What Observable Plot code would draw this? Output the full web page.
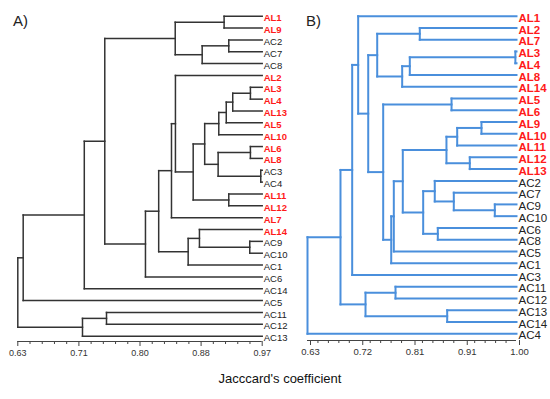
<!DOCTYPE html>
<html><head><meta charset="utf-8">
<script src="https://cdn.jsdelivr.net/npm/d3@7"></script>
<script src="https://cdn.jsdelivr.net/npm/@observablehq/plot@0.6"></script>
<style>
body{margin:0;background:#fff;}
#wrap{position:relative;width:550px;height:399px;font-family:"Liberation Sans",Arial,sans-serif;overflow:hidden;}
#wrap svg{position:absolute;top:0;}
.panel{position:absolute;top:12px;font-size:15px;color:#222;}
#caption{position:absolute;left:0;width:560px;top:371px;text-align:center;font-size:13px;color:#111;}
</style>
</head><body>
<div id="wrap">
  <div class="panel" style="left:13px">A)</div>
  <div class="panel" style="left:306px">B)</div>
  <div id="caption">Jacccard's coefficient</div>
</div>
<script>
// ---------- Panel A ----------
const leavesA = ["AL1","AL9","AC2","AC7","AC8","AL2","AL3","AL4","AL13","AL5","AL10","AL6","AL8","AC3","AC4","AL11","AL12","AL7","AL14","AC9","AC10","AC1","AC6","AC14","AC5","AC11","AC12","AC13"];
const mergesA = [
  ["a1","AL1","AL9",0.917],
  ["a2","AC2","AC7",0.9235],
  ["a3","a2","AC8",0.8865],
  ["a4","a1","a3",0.849],
  ["a5","AL3","AL4",0.9536],
  ["a6","a5","AL13",0.929],
  ["a7","a6","AL5",0.920],
  ["a8","a7","AL10",0.9096],
  ["a9","AL6","AL8",0.9536],
  ["a10","AC3","AC4",0.968],
  ["a11","a9","a10",0.9087],
  ["a12","a8","a11",0.890],
  ["a13","AL11","AL12",0.9235],
  ["a14","a12","a13",0.874],
  ["a15","AL2","a14",0.8493],
  ["a16","a15","AL7",0.8438],
  ["a17","AC9","AC10",0.9527],
  ["a18","AL14","a17",0.8827],
  ["a19","a18","AC1",0.867],
  ["a20","a16","a19",0.826],
  ["a21","a20","AC6",0.8076],
  ["a22","a4","a21",0.751],
  ["a23","a22","AC14",0.7225],
  ["a24","a23","AC5",0.6375],
  ["a25","AC11","AC12",0.7534],
  ["a26","a25","AC13",0.72],
  ["a27","a24","a26",0.63]
];
const domainA = [0.63, 0.97];
const ticksA = [0.63, 0.715, 0.80, 0.885, 0.97];
const tickLabelsA = ["0.63","0.71","0.80","0.88","0.97"];

// ---------- Panel B ----------
const leavesB = ["AL1","AL2","AL7","AL3","AL4","AL8","AL14","AL5","AL6","AL9","AL10","AL11","AL12","AL13","AC2","AC7","AC9","AC10","AC6","AC8","AC5","AC1","AC3","AC11","AC12","AC13","AC14","AC4"];
const mergesB = [
  ["b1","AL2","AL7",0.8288],
  ["b2","AL3","AL4",0.998],
  ["b3","b2","AL8",0.8111],
  ["b4","b3","AL14",0.7976],
  ["b5","b1","b4",0.7534],
  ["b6","AL5","AL6",0.885],
  ["b7","AL9","AL10",0.938],
  ["b8","b7","AL11",0.895],
  ["b9","AL12","AL13",0.9173],
  ["b10","b8","b9",0.876],
  ["b11","AC9","AC10",0.9616],
  ["b12","AC7","b11",0.889],
  ["b13","AC2","b12",0.8553],
  ["b14","AC6","AC8",0.8607],
  ["b15","b13","b14",0.8348],
  ["b16","b10","b15",0.7987],
  ["b17","b16","AC5",0.7828],
  ["b18","b17","AC1",0.7782],
  ["b19","b6","b18",0.764],
  ["b20","b5","b19",0.7375],
  ["b21","AL1","b20",0.7197],
  ["b22","b21","AC3",0.7091],
  ["b23","AC11","AC12",0.7858],
  ["b24","AC13","AC14",0.8773],
  ["b25","b23","b24",0.7327],
  ["b26","b22","b25",0.6884],
  ["b27","b26","AC4",0.63]
];
const domainB = [0.63, 1.00];
const ticksB = [0.63, 0.7225, 0.815, 0.9075, 1.00];
const tickLabelsB = ["0.63","0.72","0.81","0.91","1.00"];

function layout(leaves, merges, xmax) {
  const pos = new Map();
  leaves.forEach((l, i) => pos.set(l, {x: xmax, y: i}));
  const segs = [];
  for (const [id, a, b, h] of merges) {
    const A = pos.get(a), B = pos.get(b);
    segs.push({x1: h, x2: h, y1: A.y, y2: B.y});
    segs.push({x1: h, x2: A.x, y1: A.y, y2: A.y});
    segs.push({x1: h, x2: B.x, y1: B.y, y2: B.y});
    pos.set(id, {x: h, y: (A.y + B.y) / 2});
  }
  return segs;
}
function minorTicks(major) {
  const out = [];
  for (let i = 0; i < major.length - 1; i++) {
    const step = (major[i+1] - major[i]) / 5;
    for (let k = 1; k < 5; k++) out.push(major[i] + k * step);
  }
  return out;
}

const SANS = "'Liberation Sans', Arial, sans-serif";

function panel({leaves, merges, domain, ticks, tickLabels, width, marginLeft, marginRight, yMax, top, bottom, lineColor, lineWidth, labelSize, labelDx, tickSize, tickDx}) {
  const segs = layout(leaves, merges, domain[1]);
  const labels = leaves.map((name, i) => ({name, i}));
  const al = labels.filter(d => d.name.startsWith("AL"));
  const ac = labels.filter(d => !d.name.startsWith("AL"));
  return Plot.plot({
    width, height: 366,
    marginLeft, marginRight, marginTop: top, marginBottom: 366 - bottom,
    x: {domain, axis: null},
    y: {domain: [0, yMax], axis: null, reverse: true},
    style: {background: "transparent", overflow: "visible"},
    marks: [
      Plot.ruleY([yMax], {stroke: "#444", strokeWidth: 1}),
      Plot.axisX({ticks: minorTicks(ticks), tickSize: 3, tickFormat: () => "", stroke: "#444"}),
      Plot.axisX({ticks, tickSize: 5, tickPadding: 3, stroke: "#444",
        tickFormat: d => tickLabels[ticks.indexOf(d)], fontSize: tickSize, fontFamily: SANS, fill: "#333", dx: tickDx}),
      Plot.link(segs, {x1: "x1", y1: "y1", x2: "x2", y2: "y2", stroke: lineColor, strokeWidth: lineWidth, strokeLinecap: "square"}),
      Plot.text(ac, {x: domain[1], y: "i", text: "name", textAnchor: "start", dx: labelDx, dy: 2,
        fill: "#222", fontSize: labelSize, fontFamily: SANS}),
      Plot.text(al, {x: domain[1], y: "i", text: "name", textAnchor: "start", dx: labelDx, dy: 2,
        fill: "#ff1a1a", fontWeight: "bold", fontSize: labelSize, fontFamily: SANS})
    ]
  });
}

const wrap = document.getElementById("wrap");
const svgA = panel({leaves: leavesA, merges: mergesA, domain: domainA, ticks: ticksA, tickLabels: tickLabelsA,
  width: 290, marginLeft: 17.3, marginRight: 28.3, yMax: 27.45, top: 15.7, bottom: 341,
  lineColor: "#333", lineWidth: 1.5, labelSize: 9.5, labelDx: 1.5, tickSize: 9, tickDx: 0});
svgA.style.left = "0px";
wrap.appendChild(svgA);

const svgB = panel({leaves: leavesB, merges: mergesB, domain: domainB, ticks: ticksB, tickLabels: tickLabelsB,
  width: 260, marginLeft: 17, marginRight: 34, yMax: 27.57, top: 15.7, bottom: 340,
  lineColor: "#4a8fdc", lineWidth: 2, labelSize: 11.5, labelDx: 2, tickSize: 9.5, tickDx: 3});
svgB.style.left = "290px";
wrap.appendChild(svgB);
</script>
</body></html>
